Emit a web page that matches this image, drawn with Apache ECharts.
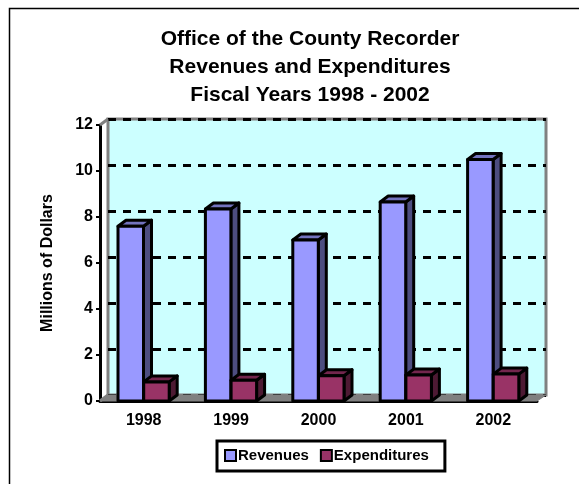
<!DOCTYPE html>
<html>
<head>
<meta charset="utf-8">
<style>html,body{margin:0;padding:0;background:#fff}#chart{width:579px;height:484px}</style>
<script src="https://cdn.jsdelivr.net/npm/echarts@6/dist/echarts.min.js"></script>
</head>
<body>
<div id="chart"></div>
<script>
// Budget figures, millions of dollars
const years = ['1998', '1999', '2000', '2001', '2002'];
const revenues = [7.6, 8.35, 7.0, 8.65, 10.5];
const expenditures = [0.83, 0.9, 1.1, 1.13, 1.17];
const valueTicks = { min: 0, max: 12, interval: 2 };
const titleLines = ['Office of the County Recorder', 'Revenues and Expenditures', 'Fiscal Years 1998 - 2002'];

const DEPTH_X = 8, DEPTH_Y = 6, BAR_WIDTH = 25.5;
const FONT = '"Liberation Sans", Arial, sans-serif';

// Box-shaped bar: front face plus sheared top and side faces
function boxRenderer(offset, sideFill, topFill) {
  return function (params, api) {
    const top = api.coord([api.value(0), api.value(1)]);
    const base = api.coord([api.value(0), 0]);
    const x0 = top[0] + offset, x1 = x0 + BAR_WIDTH;
    const y0 = top[1], y1 = base[1];
    const edge = { stroke: '#000', lineWidth: 3, lineJoin: 'round' };
    return {
      type: 'group',
      children: [
        { type: 'polygon', shape: { points: [[x1, y0], [x1 + DEPTH_X, y0 - DEPTH_Y], [x1 + DEPTH_X, y1 - DEPTH_Y], [x1, y1]] },
          style: Object.assign({ fill: sideFill }, edge) },
        { type: 'polygon', shape: { points: [[x0, y0], [x0 + DEPTH_X, y0 - DEPTH_Y], [x1 + DEPTH_X, y0 - DEPTH_Y], [x1, y0]] },
          style: Object.assign({ fill: topFill }, edge) },
        { type: 'rect', shape: { x: x0, y: y0, width: BAR_WIDTH, height: y1 - y0 },
          style: Object.assign({ fill: api.visual('color') }, edge) }
      ]
    };
  };
}

// Floor and left wall joining the front axes to the back wall
function shellRenderer(params) {
  const c = params.coordSys;
  const l = c.x, r = c.x + c.width, t = c.y, b = c.y + c.height;
  return {
    type: 'group',
    children: [
      { type: 'polygon', shape: { points: [[l, b], [l + DEPTH_X, b - DEPTH_Y], [r + DEPTH_X + 1, b - DEPTH_Y], [r, b]] },
        style: { fill: '#808080', stroke: '#808080', lineWidth: 1 } },
      { type: 'line', shape: { x1: l, y1: t, x2: l + DEPTH_X, y2: t - DEPTH_Y },
        style: { stroke: '#808080', lineWidth: 3 } },
      { type: 'line', shape: { x1: l + DEPTH_X, y1: b - DEPTH_Y, x2: l, y2: b },
        style: { stroke: '#808080', lineWidth: 3 } }
    ]
  };
}

const axisText = { color: '#000', fontFamily: FONT, fontWeight: 'bold', fontSize: 16 };

const chart = echarts.init(document.getElementById('chart'));
chart.setOption({
  animation: false,
  backgroundColor: '#fff',
  title: {
    text: titleLines.join('\n'),
    left: 305, top: 20, textAlign: 'center',
    textStyle: { color: '#000', fontFamily: FONT, fontWeight: 'bold', fontSize: 21, lineHeight: 28 }
  },
  graphic: [{
    type: 'polyline', silent: true,
    shape: { points: [[9.5, 484], [9.5, 8.5], [579, 8.5]] },
    style: { stroke: '#000', lineWidth: 1.5, fill: null }
  }],
  legend: {
    data: ['Revenues', 'Expenditures'],
    left: 217, top: 441,
    padding: [7, 16, 8, 7],
    itemGap: 11, itemWidth: 11, itemHeight: 11,
    icon: 'rect',
    borderColor: '#000', borderWidth: 3,
    itemStyle: { borderColor: '#000', borderWidth: 2 },
    textStyle: { color: '#000', fontFamily: FONT, fontWeight: 'bold', fontSize: 15, padding: [0, 0, 0, -3] }
  },
  grid: [
    { left: 100, top: 125, width: 437, height: 276 },
    { left: 108, top: 119, width: 438, height: 276, show: true, backgroundColor: '#CCFFFF', borderColor: '#808080', borderWidth: 3 }
  ],
  xAxis: [
    { type: 'category', data: years, gridIndex: 0, axisLabel: Object.assign({ margin: 12 }, axisText),
      axisLine: { lineStyle: { color: '#000', width: 3 } },
      axisTick: { length: 5, lineStyle: { color: '#000', width: 2 } } },
    { type: 'category', data: years, gridIndex: 1, show: false }
  ],
  yAxis: [
    { type: 'value', gridIndex: 0, min: valueTicks.min, max: valueTicks.max, interval: valueTicks.interval,
      name: 'Millions of Dollars', nameLocation: 'middle', nameRotate: 90, nameGap: 44,
      nameTextStyle: { color: '#000', fontFamily: FONT, fontWeight: 'bold', fontSize: 16 },
      axisLabel: Object.assign({ margin: 7 }, axisText),
      axisLine: { show: true, lineStyle: { color: '#000', width: 3 } },
      axisTick: { show: true, length: 4, lineStyle: { color: '#000', width: 2 } },
      splitLine: { show: false } },
    { type: 'value', gridIndex: 1, min: valueTicks.min, max: valueTicks.max, interval: valueTicks.interval,
      axisLabel: { show: false }, axisLine: { show: false }, axisTick: { show: false },
      splitLine: { show: true, lineStyle: { color: '#000', width: 3, type: [8, 7] } } }
  ],
  series: [
    { type: 'custom', name: 'shell', silent: true, xAxisIndex: 0, yAxisIndex: 0, data: [[0, 0]], renderItem: shellRenderer, z: 1 },
    { type: 'custom', name: 'Revenues', xAxisIndex: 0, yAxisIndex: 0, z: 2,
      itemStyle: { color: '#9999FF' }, renderItem: boxRenderer(-25.7, '#4D4D80', '#7373BF'),
      encode: { x: 0, y: 1 }, data: revenues.map((v, i) => [i, v]) },
    { type: 'custom', name: 'Expenditures', xAxisIndex: 0, yAxisIndex: 0, z: 3,
      itemStyle: { color: '#993366' }, renderItem: boxRenderer(0, '#4D1A33', '#73264D'),
      encode: { x: 0, y: 1 }, data: expenditures.map((v, i) => [i, v]) }
  ]
});
</script>
</body>
</html>
